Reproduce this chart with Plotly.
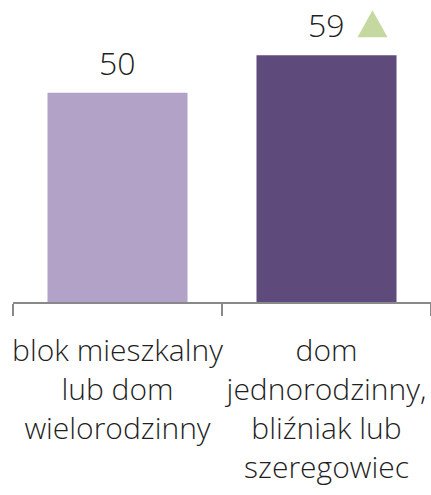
import plotly.graph_objects as go

# Housing type categories and their scores
categories = [
    "blok mieszkalny<br>lub dom<br>wielorodzinny",
    "dom<br>jednorodzinny,<br>bliźniak lub<br>szeregowiec",
]
values = [50, 59]
bar_colors = ["#b3a2c8", "#5f4b7b"]
trend_up = [False, True]

FONT = "Open Sans"
TEXT_COLOR = "#1f1f1f"
UP_COLOR = "#c5d89f"

fig = go.Figure(
    go.Bar(
        x=categories,
        y=values,
        marker=dict(color=bar_colors, line=dict(width=0)),
        width=0.67,
        hoverinfo="skip",
    )
)

annotations = []
shapes = []
for i, (cat, val, up) in enumerate(zip(categories, values, trend_up)):
    annotations.append(dict(
        x=cat, y=val, xref="x", yref="y",
        text=str(val), showarrow=False,
        yanchor="bottom", yshift=7,
        font=dict(family=FONT, size=32, color=TEXT_COLOR, weight=300),
    ))
    if up:
        # upward-trend marker: pixel-sized triangle anchored at the bar top
        shapes.append(dict(
            type="path", xref="x", yref="y",
            xsizemode="pixel", ysizemode="pixel",
            xanchor=i, yanchor=val,
            path="M 31,18 L 61,18 L 46,45 Z",
            fillcolor=UP_COLOR, line=dict(width=0),
        ))

fig.update_layout(
    width=431, height=495,
    margin=dict(l=13, r=0, t=0, b=193, autoexpand=False),
    paper_bgcolor="white", plot_bgcolor="white",
    showlegend=False,
    annotations=annotations,
    shapes=shapes,
    font=dict(family=FONT, size=30, color=TEXT_COLOR, weight=300),
)
fig.update_xaxes(
    type="category",
    range=[-0.5, 1.5],
    automargin=False,
    tickangle=0,
    showline=True, linecolor="#898989", linewidth=2,
    ticks="outside", tickson="boundaries", ticklen=12,
    tickcolor="#898989", tickwidth=2,
    ticklabelstandoff=21,
    showgrid=False, zeroline=False,
    tickfont=dict(family=FONT, size=30, color=TEXT_COLOR, weight=300),
)
fig.update_yaxes(
    range=[0, 72.2], visible=False, showgrid=False, zeroline=False,
    automargin=False,
)

fig.write_html("out.html")
